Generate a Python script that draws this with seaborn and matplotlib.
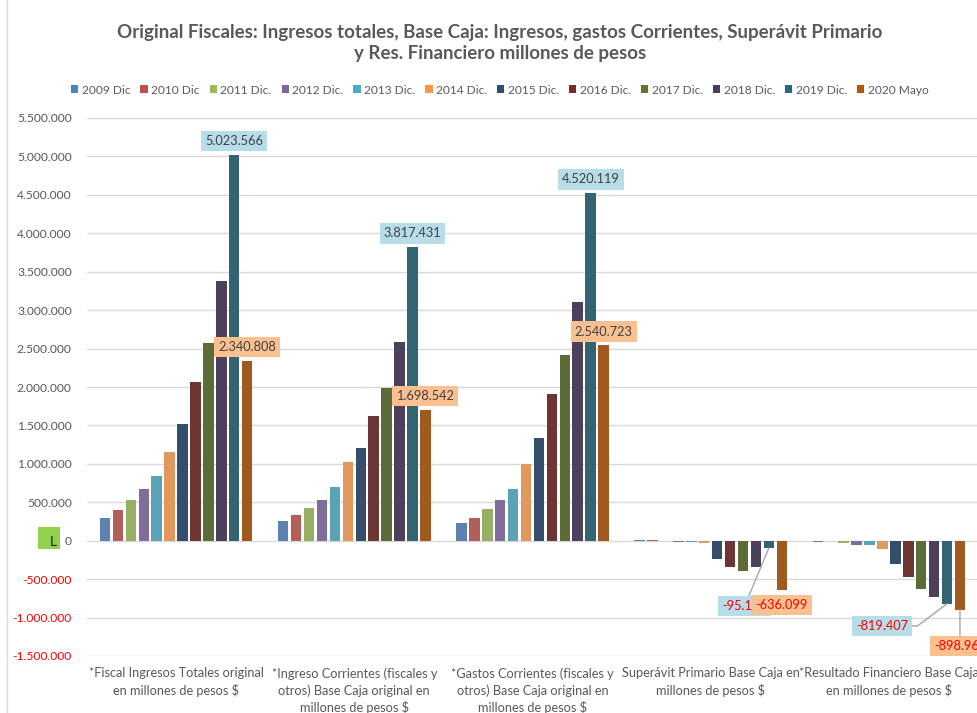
import matplotlib
matplotlib.use("Agg")
import matplotlib.pyplot as plt
from matplotlib.ticker import FixedLocator, FuncFormatter
from matplotlib.lines import Line2D
from matplotlib.patches import Patch, Rectangle
import seaborn as sns
import pandas as pd

# ---- data -------------------------------------------------------------
categorias = [
    "*Fiscal Ingresos Totales original\nen millones de pesos $",
    "*Ingreso Corrientes (fiscales y\notros) Base Caja original en\nmillones de pesos $",
    "*Gastos Corrientes (fiscales y\notros) Base Caja original en\nmillones de pesos $",
    "Superávit Primario Base Caja en\nmillones de pesos $",
    "*Resultado Financiero Base Caja\nen millones de pesos $",
]
periodos = ["2009 Dic", "2010 Dic", "2011 Dic.", "2012 Dic.", "2013 Dic.", "2014 Dic.",
            "2015 Dic.", "2016 Dic.", "2017 Dic.", "2018 Dic.", "2019 Dic.", "2020 Mayo"]

ingresos_totales = [296000, 396000, 535000, 679000, 845000, 1158000,
                    1523000, 2059000, 2568000, 3377000, 5023566, 2340808]
ingresos_corrientes = [257000, 339000, 422000, 535000, 705000, 1018000,
                       1201000, 1623000, 1988000, 2581000, 3817431, 1698542]
gastos_corrientes = [226000, 296000, 409000, 535000, 675000, 992000,
                     1341000, 1915000, 2411000, 3103000, 4520119, 2540723]
superavit_primario = [15000, 14000, 2000, -22000, -22000, -35000,
                      -235000, -348000, -400000, -348000, -95127, -636099]
resultado_financiero = [-15000, -2000, -25000, -61000, -61000, -104000,
                        -305000, -470000, -627000, -727000, -819407, -898969]

series = [ingresos_totales, ingresos_corrientes, gastos_corrientes,
          superavit_primario, resultado_financiero]

colores = ["#4F81BD", "#C0504D", "#9BBB59", "#8064A2", "#4BACC6", "#F79646",
           "#2C4D75", "#772C2A", "#5F7530", "#4D3B62", "#276A7C", "#B65708"]

yticks = [-1500000, -1000000, -500000, 0, 500000, 1000000, 1500000, 2000000,
          2500000, 3000000, 3500000, 4000000, 4500000, 5000000, 5500000]

df = pd.DataFrame(
    [(cat, per, vals[j]) for cat, vals in zip(categorias, series)
     for j, per in enumerate(periodos)],
    columns=["categoria", "periodo", "valor"],
)

# ---- style ------------------------------------------------------------
sns.set_style("white")
plt.rcParams["font.family"] = ["Lato", "DejaVu Sans"]
GRIS = "#595959"

fig = plt.figure(figsize=(9.78, 7.13), dpi=100)
W, H = 978, 713
ax = fig.add_axes([87 / W, 1 - 656 / H, 1 - 87 / W, (656 - 118) / H])

sns.barplot(data=df, x="categoria", y="valor", hue="periodo",
            order=categorias, hue_order=periodos, palette=colores,
            width=0.87, gap=0.19, linewidth=0, errorbar=None,
            legend=False, ax=ax)

ax.set_xlim(-0.5, len(categorias) - 0.5)
ax.set_ylim(-1500000, 5500000)
ax.yaxis.set_major_locator(FixedLocator(yticks))
ax.yaxis.set_major_formatter(FuncFormatter(lambda v, _: f"{int(v):,}".replace(",", ".")))
ax.yaxis.grid(True, color="#D9D9D9", linewidth=1)
ax.set_axisbelow(True)
for s in ax.spines.values():
    s.set_visible(False)
ax.tick_params(axis="both", length=0)
ax.tick_params(axis="y", pad=11, labelsize=8.7, labelcolor=GRIS)
ax.tick_params(axis="x", pad=8, labelsize=9.2, labelcolor=GRIS)
for lab, v in zip(ax.get_yticklabels(), yticks):
    lab.set_color("#FF0000" if v < 0 else GRIS)
ax.set_xlabel("")
ax.set_ylabel("")
for lab in ax.get_xticklabels():
    lab.set_linespacing(1.42)

# ---- value labels on the last two periods -----------------------------
fondo = {10: "#B7DEE8", 11: "#FAC090"}
# (offset in points, draw leader line, connection style)
ubicacion = {
    (3, 10): ((-17.5, -42), True, "arc3"),
    (3, 11): ((0, -11), False, "arc3"),
    (4, 10): ((-47, -16), True, "angle,angleA=0,angleB=37,rad=0"),
    (4, 11): ((0, -26), True, "arc3"),
}
for h in (10, 11):
    cont = ax.containers[h]
    for i, bar in enumerate(cont):
        v = series[i][h]
        x = bar.get_x() + bar.get_width() / 2
        off, linea, conn = ubicacion.get((i, h), ((0, 10), False, "arc3"))
        props = dict(arrowstyle="-", color="#A6A6A6", lw=1,
                     connectionstyle=conn, shrinkA=0, shrinkB=0) if linea else None
        ax.annotate(f"{v:,}".replace(",", "."), xy=(x, v), xytext=off,
                    textcoords="offset points", ha="center", va="center",
                    fontsize=9.2, color="#FF0000" if v < 0 else "#404040",
                    bbox=dict(boxstyle="square,pad=0.32", fc=fondo[h], ec="none"),
                    arrowprops=props, annotation_clip=False, zorder=5 + h)

# ---- legend -----------------------------------------------------------
handles = [Patch(facecolor=c, edgecolor="none") for c in colores]
fig.legend(handles, periodos, loc="center", bbox_to_anchor=(0.511, 1 - 90 / H),
           ncol=12, frameon=False, fontsize=8.6, handlelength=0.6, handleheight=0.6,
           handletextpad=0.3, columnspacing=0.85, labelcolor=GRIS)

# ---- title ------------------------------------------------------------
fig.text(0.511, 1 - 43 / H,
         "Original Fiscales: Ingresos totales, Base Caja: Ingresos, gastos Corrientes, Superávit Primario\n"
         "y Res. Financiero millones de pesos",
         ha="center", va="center", fontsize=13.5, fontweight="bold", color=GRIS,
         linespacing=1.35)

# small marker box beside the zero tick
fig.add_artist(Rectangle((38 / W, 1 - 549 / H), 22 / W, 22 / H,
                         transform=fig.transFigure, facecolor="#92D050", edgecolor="none"))
fig.text(53 / W, 1 - 542 / H, "L", ha="center", va="center", fontsize=10, color="#262626")

# chart border on the left
fig.add_artist(Line2D([7.5 / W, 7.5 / W], [0, 1], transform=fig.transFigure,
                      color="#D9D9D9", lw=1))

fig.savefig("out.png", dpi=100)
